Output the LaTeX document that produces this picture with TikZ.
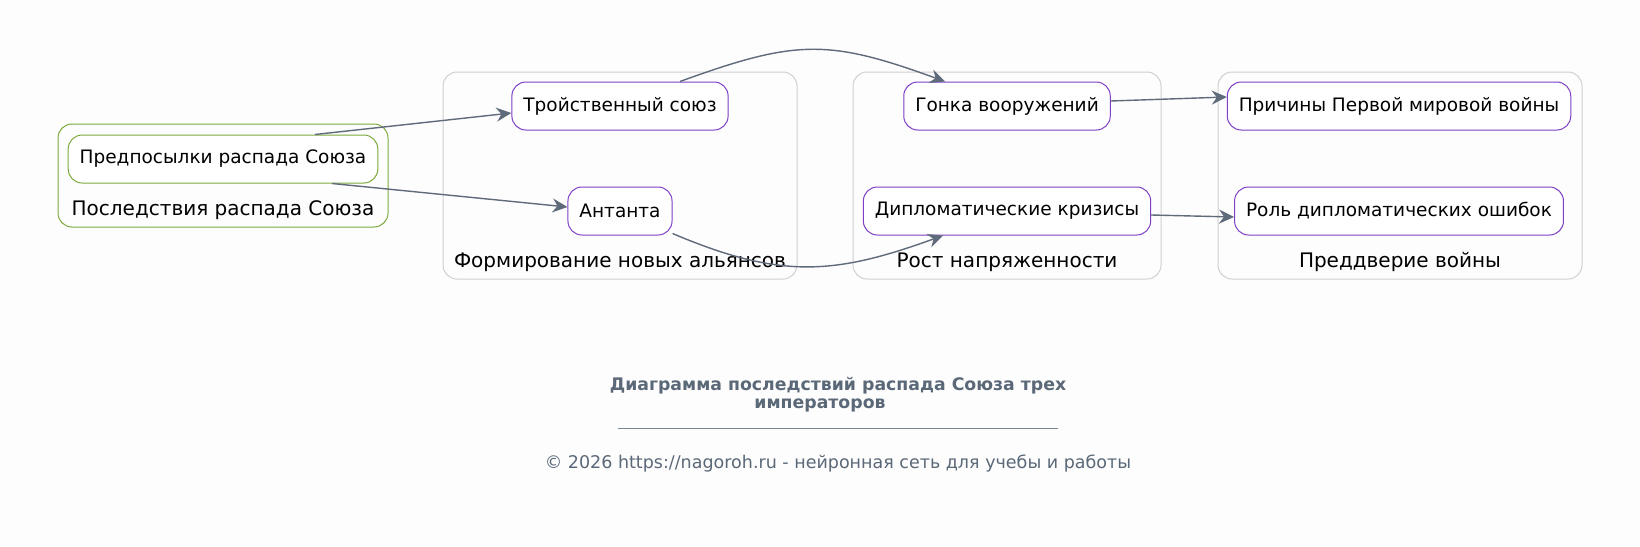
\documentclass[tikz,border=0pt]{standalone}
\usepackage{fontspec}
\setmainfont{DejaVu Sans}
\usetikzlibrary{arrows.meta}
\definecolor{bgcol}{HTML}{FDFDFD}
\definecolor{nodeborder}{HTML}{7E3FC6}
\definecolor{greenborder}{HTML}{7DAA3C}
\definecolor{clustergray}{HTML}{D0D0D0}
\definecolor{edgecol}{HTML}{5F6B7A}
\definecolor{titlecol}{HTML}{5A6878}

\begin{document}
\begin{tikzpicture}[x=1pt,y=-1pt,
  item/.style={draw=nodeborder,line width=1pt,fill=white,rounded corners=14pt,
    minimum height=48pt,inner xsep=11.5pt,font=\fontsize{18.5}{22}\selectfont},
  cluster/.style={draw=clustergray,line width=1pt,rounded corners=14pt},
  clabel/.style={font=\fontsize{20}{24}\selectfont},
  edge/.style={draw=edgecol,line width=1.4pt,-{Stealth[length=15pt,width=14pt,inset=5pt]}}]
  \fill[bgcol] (0,0) rectangle (1640,546);
  \useasboundingbox (0,0) rectangle (1640,546);

  % clusters
  \draw[cluster,draw=greenborder] (58,124) rectangle (388,227);
  \draw[cluster] (443,72) rectangle (797,279);
  \draw[cluster] (853,72) rectangle (1161,279);
  \draw[cluster] (1218,72) rectangle (1582,279);
  \node[clabel] (lpos) at (223,210) {Последствия распада Союза};
  \node[clabel] (lform) at (620,262) {Формирование новых альянсов};
  \node[clabel] (lrost) at (1007,262) {Рост напряженности};
  \node[clabel] (lpred) at (1400,262) {Преддверие войны};

  % nodes
  \node[item,draw=greenborder] (pred) at (223,159) {Предпосылки распада Союза};
  \node[item] (troy) at (620,106) {Тройственный союз};
  \node[item] (ant) at (620,211) {Антанта};
  \node[item] (gonka) at (1007,106) {Гонка вооружений};
  \node[item] (dipl) at (1007,211) {Дипломатические кризисы};
  \node[item] (prich) at (1399,106) {Причины Первой мировой войны};
  \node[item] (rol) at (1399,211) {Роль дипломатических ошибок};

  % edges
  \draw[edge] ([xshift=92pt]pred.north) -- ([yshift=-7pt]troy.west);
  \draw[edge] ([xshift=109pt]pred.south) -- ([yshift=4pt]ant.west);
  \draw[edge] ([xshift=60pt]troy.north) to[out=20,in=160,looseness=1.2] ([xshift=-62pt]gonka.north);
  \draw[edge] ([yshift=2pt]ant.south east) to[out=-23,in=-160,looseness=1.1] ([xshift=-64pt]dipl.south);
  \draw[edge] ([yshift=5pt]gonka.east) -- ([yshift=9pt]prich.west);
  \draw[edge] ([yshift=-4pt]dipl.east) -- ([yshift=-6pt]rol.west);

  % caption
  \node[font=\fontsize{17.3}{20}\selectfont\bfseries,text=titlecol] (title1) at (838,386) {Диаграмма последствий распада Союза трех};
  \node[font=\fontsize{17.3}{20}\selectfont\bfseries,text=titlecol] (title2) at (820,405) {императоров};
  \draw[titlecol!80,line width=0.6pt] (618,428) -- (1058,428);
  \node[font=\fontsize{17.5}{20}\selectfont,text=titlecol] (copy) at (838,464) {© 2026 https://nagoroh.ru - нейронная сеть для учебы и работы};
\end{tikzpicture}
\end{document}
